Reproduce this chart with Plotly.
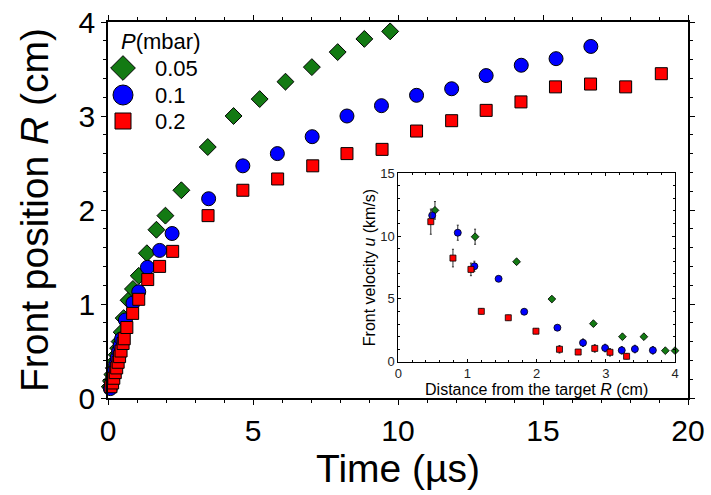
import plotly.graph_objects as go

# Front position R (cm) versus time (µs) for three background pressures
t_005 = [0.06, 0.10, 0.15, 0.20, 0.25, 0.30, 0.35, 0.40, 0.47, 0.54, 0.71, 0.86, 1.06, 1.34,
         1.67, 1.98, 2.53, 3.44, 4.33, 5.23, 6.12, 7.03, 7.92, 8.84, 9.73]
R_005 = [0.12, 0.18, 0.25, 0.32, 0.39, 0.46, 0.53, 0.60, 0.70, 0.85, 1.04, 1.16, 1.30, 1.54,
         1.79, 1.94, 2.21, 2.67, 3.00, 3.18, 3.365, 3.52, 3.68, 3.82, 3.90]

t_01 = [0.08, 0.12, 0.17, 0.22, 0.27, 0.32, 0.37, 0.42, 0.47, 0.60, 0.86, 1.06, 1.36, 1.78,
        2.21, 3.47, 4.65, 5.84, 7.04, 8.24, 9.43, 10.64, 11.85, 13.04, 14.25, 15.45, 16.65]
R_01 = [0.10, 0.15, 0.22, 0.29, 0.36, 0.43, 0.50, 0.56, 0.63, 0.83, 1.01, 1.13, 1.39, 1.57,
        1.75, 2.12, 2.47, 2.60, 2.78, 3.00, 3.11, 3.22, 3.29, 3.43, 3.54, 3.61, 3.74]

t_02 = [0.10, 0.16, 0.20, 0.25, 0.30, 0.35, 0.40, 0.45, 0.52, 0.56, 0.65, 0.85, 1.06, 1.37,
        1.78, 2.23, 3.45, 4.65, 5.85, 7.06, 8.24, 9.45, 10.64, 11.85, 13.04, 14.24, 15.43,
        16.64, 17.85, 19.08]
R_02 = [0.12, 0.16, 0.21, 0.27, 0.32, 0.38, 0.44, 0.50, 0.58, 0.63, 0.75, 0.90, 1.05, 1.26,
        1.40, 1.56, 1.94, 2.21, 2.33, 2.47, 2.60, 2.645, 2.84, 2.95, 3.06, 3.15, 3.31,
        3.34, 3.31, 3.45]

# Front velocity u (km/s) versus distance from the target R (cm), with uncertainties
d_005 = [0.53, 1.11, 1.71, 2.22, 2.82, 3.24, 3.55, 3.86, 4.00]
u_005 = [12.05, 9.95, 7.96, 4.99, 3.03, 1.99, 1.99, 0.88, 0.88]
e_005 = [0.7, 0.6, 0.2, 0.2, 0.2, 0.2, 0.2, 0.1, 0.1]

d_01 = [0.49, 0.86, 1.10, 1.45, 1.82, 2.30, 2.67, 2.99, 3.23, 3.42, 3.68]
u_01 = [11.65, 10.27, 7.6, 6.6, 3.98, 2.71, 1.51, 1.09, 0.91, 1.01, 0.91]
e_01 = [0.5, 0.6, 0.4, 0.2, 0.2, 0.2, 0.3, 0.3, 0.3, 0.3, 0.3]

d_02 = [0.47, 0.79, 1.05, 1.20, 1.59, 1.99, 2.33, 2.60, 2.84, 3.06, 3.30]
u_02 = [11.15, 8.25, 7.35, 4.01, 3.50, 2.43, 0.99, 0.77, 1.06, 0.75, 0.43]
e_02 = [1.0, 0.7, 0.5, 0.2, 0.2, 0.2, 0.3, 0.2, 0.3, 0.3, 0.2]

pressures = ["0.05", "0.1", "0.2"]
legend_title = "<i>P</i>(mbar)"

GREEN = "#137a13"
BLUE = "#0000ff"
RED = "#ff0000"
FONT = "Liberation Sans, Arial, sans-serif"

styles = [
    dict(symbol="diamond", color=GREEN, size=13, isize=6, lsize=19),
    dict(symbol="circle", color=BLUE, size=14, isize=7, lsize=20),
    dict(symbol="square", color=RED, size=12, isize=6, lsize=16),
]

main_sets = [(t_005, R_005), (t_01, R_01), (t_02, R_02)]
inset_sets = [(d_005, u_005, e_005), (d_01, u_01, e_01), (d_02, u_02, e_02)]

fig = go.Figure()

for (t, R), st, p in zip(main_sets, styles, pressures):
    fig.add_trace(go.Scatter(
        x=t, y=R, mode="markers", name=p, showlegend=False,
        marker=dict(symbol=st["symbol"], color=st["color"], size=st["size"], opacity=1,
                    line=dict(color="black", width=1)),
        cliponaxis=False, xaxis="x", yaxis="y",
    ))

for (d, u, e), st, p in zip(inset_sets, styles, pressures):
    fig.add_trace(go.Scatter(
        x=d, y=u, mode="markers", name=p, showlegend=False,
        error_y=dict(type="data", array=e, visible=True, color="#333333",
                     thickness=1, width=1),
        marker=dict(symbol=st["symbol"], color=st["color"], size=st["isize"], opacity=1,
                    line=dict(color="black", width=0.8)),
        cliponaxis=False, xaxis="x2", yaxis="y2",
    ))

# Key drawn on a hidden overlay axis whose units are screen pixels
key_x = 123
key_text_x = 153
key_title_y = 41
key_rows_y = [68, 95, 121]
fig.add_trace(go.Scatter(
    x=[key_x] * len(pressures), y=key_rows_y, mode="markers", showlegend=False,
    hoverinfo="skip",
    marker=dict(symbol=[s["symbol"] for s in styles], color=[s["color"] for s in styles],
                size=[s["lsize"] for s in styles], opacity=1,
                line=dict(color="black", width=1)),
    cliponaxis=False, xaxis="x3", yaxis="y3",
))
annotations = [dict(x=key_x - 4, y=key_title_y, xref="x3", yref="y3", text=legend_title,
                    showarrow=False, xanchor="left", yanchor="middle",
                    font=dict(family=FONT, size=22, color="black"))]
for p, yy in zip(pressures, key_rows_y):
    annotations.append(dict(x=key_text_x, y=yy, xref="x3", yref="y3", text=p,
                            showarrow=False, xanchor="left", yanchor="middle",
                            font=dict(family=FONT, size=22, color="black")))

main_axis = dict(showline=True, linecolor="black", linewidth=1.5, mirror="ticks",
                 ticks="outside", ticklen=5, tickwidth=1.2, tickcolor="black",
                 showgrid=False, zeroline=False, automargin=False,
                 tickfont=dict(family=FONT, size=30, color="black"))
inset_axis = dict(showline=True, linecolor="black", linewidth=1, mirror="ticks",
                  ticks="inside", ticklen=3, tickwidth=1, tickcolor="black",
                  showgrid=False, zeroline=False, automargin=False,
                  tickfont=dict(family=FONT, size=13, color="#222222"))

fig.update_layout(
    width=711, height=495,
    margin=dict(l=108, r=23, t=22, b=97),
    paper_bgcolor="white", plot_bgcolor="white",
    font=dict(family=FONT, color="black"),
    showlegend=False,
    annotations=annotations,
    xaxis=dict(**main_axis, range=[0, 20], dtick=5,
               minor=dict(dtick=1, ticklen=3, ticks="outside", tickcolor="black"),
               title=dict(text="Time (µs)", font=dict(family=FONT, size=39), standoff=4)),
    yaxis=dict(**main_axis, range=[0, 4], dtick=1,
               minor=dict(dtick=0.2, ticklen=3, ticks="outside", tickcolor="black"),
               title=dict(text="Front position <i>R</i> (cm)", font=dict(family=FONT, size=39),
                          standoff=18)),
    xaxis2=dict(**inset_axis, domain=[0.5005, 0.9776], anchor="y2", range=[0, 4], dtick=1,
                minor=dict(dtick=0.2, ticklen=2, ticks="inside", tickcolor="black"),
                title=dict(text="Distance from the target <i>R</i> (cm)",
                           font=dict(family=FONT, size=16), standoff=0)),
    yaxis2=dict(**inset_axis, domain=[0.0965, 0.5976], anchor="x2", range=[0, 15], dtick=5,
                minor=dict(dtick=1, ticklen=2, ticks="inside", tickcolor="black"),
                title=dict(text="Front velocity <i>u</i> (km/s)",
                           font=dict(family=FONT, size=16), standoff=0)),
    xaxis3=dict(domain=[0, 1], range=[108, 688], visible=False, fixedrange=True,
                anchor="y3", overlaying="x"),
    yaxis3=dict(domain=[0, 1], range=[398, 22], visible=False, fixedrange=True,
                anchor="x3", overlaying="y"),
)

fig.write_html("out.html")
